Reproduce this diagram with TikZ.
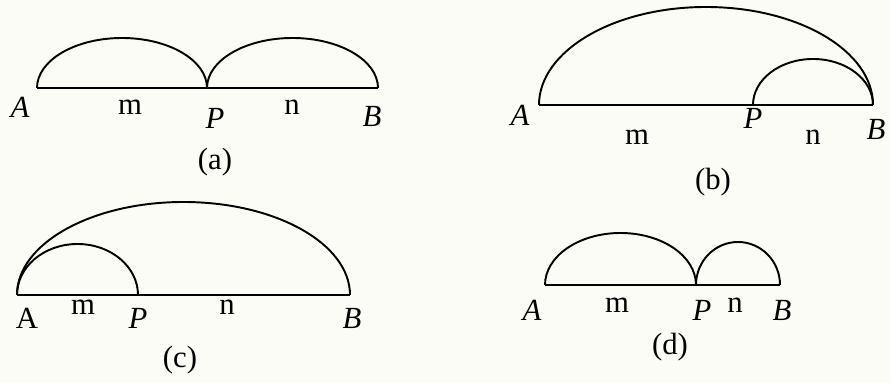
\documentclass[tikz,border=0pt]{standalone}
\usepackage{fontspec}
\setmainfont{Liberation Serif}
\usetikzlibrary{positioning, calc}
\definecolor{bgpaper}{HTML}{FCFCF7}
\definecolor{inkdark}{HTML}{000000}
\tikzset{
  segline/.style={draw=inkdark, line width=1.1pt},
  arcline/.style={draw=inkdark, line width=1.1pt},
  ptlabel/.style={font=\fontsize{17.5}{21}\selectfont\itshape, text=inkdark, inner sep=0pt},
  lenlabel/.style={font=\fontsize{17.5}{21}\selectfont, text=inkdark, inner sep=0pt},
  caplabel/.style={font=\fontsize{17.5}{21}\selectfont, text=inkdark, inner sep=0pt},
}

\begin{document}
\begin{tikzpicture}
  \fill[bgpaper] (0,0) rectangle (17.8,7.66);
  \useasboundingbox (0,0) rectangle (17.8,7.66);

  % (a)
  \coordinate (aA) at (0.74,5.90);
  \coordinate (aP) at (4.14,5.90);
  \coordinate (aB) at (7.56,5.90);
  \draw[segline] (aA) -- (aB);
  \draw[arcline] (aA) arc[start angle=180, end angle=0, x radius=1.70, y radius=1.0];
  \draw[arcline] (aP) arc[start angle=180, end angle=0, x radius=1.71, y radius=1.0];
  \node[ptlabel]  (aAl) at (0.40,5.52) {A};
  \node[lenlabel] (aml) at (2.60,5.52) {m};
  \node[ptlabel]  (aPl) at (4.30,5.30) {P};
  \node[lenlabel] (anl) at (5.84,5.52) {n};
  \node[ptlabel]  (aBl) at (7.44,5.34) {B};
  \node[caplabel] (acap) at (4.30,4.42) {(a)};

  % (b)
  \coordinate (bA) at (10.78,5.56);
  \coordinate (bP) at (15.06,5.56);
  \coordinate (bB) at (17.46,5.56);
  \draw[segline] (bA) -- (bB);
  \draw[arcline] (bA) arc[start angle=180, end angle=0, x radius=3.34, y radius=1.96];
  \draw[arcline] (bP) arc[start angle=180, end angle=0, x radius=1.20, y radius=0.92];
  \node[ptlabel]  (bAl) at (10.40,5.36) {A};
  \node[lenlabel] (bml) at (12.74,4.92) {m};
  \node[ptlabel]  (bPl) at (15.06,5.30) {P};
  \node[lenlabel] (bnl) at (16.26,4.92) {n};
  \node[ptlabel]  (bBl) at (17.52,5.08) {B};
  \node[caplabel] (bcap) at (14.26,4.02) {(b)};

  % (c)
  \coordinate (cA) at (0.34,1.76);
  \coordinate (cP) at (2.76,1.76);
  \coordinate (cB) at (7.00,1.76);
  \draw[segline] (cA) -- (cB);
  \draw[arcline] (cA) arc[start angle=180, end angle=0, x radius=3.33, y radius=1.86];
  \draw[arcline] (cA) arc[start angle=180, end angle=0, x radius=1.21, y radius=1.02];
  \node[lenlabel] (cAl) at (0.54,1.30) {A};
  \node[lenlabel] (cml) at (1.66,1.52) {m};
  \node[ptlabel]  (cPl) at (2.76,1.30) {P};
  \node[lenlabel] (cnl) at (4.54,1.52) {n};
  \node[ptlabel]  (cBl) at (7.04,1.30) {B};
  \node[caplabel] (ccap) at (3.60,0.46) {(c)};

  % (d)
  \coordinate (dA) at (10.90,1.96);
  \coordinate (dP) at (13.92,1.96);
  \coordinate (dB) at (15.60,1.96);
  \draw[segline] (dA) -- (dB);
  \draw[arcline] (dA) arc[start angle=180, end angle=0, x radius=1.51, y radius=1.04];
  \draw[arcline] (dP) arc[start angle=180, end angle=0, x radius=0.84, y radius=0.86];
  \node[ptlabel]  (dAl) at (10.64,1.46) {A};
  \node[lenlabel] (dml) at (12.34,1.56) {m};
  \node[ptlabel]  (dPl) at (14.04,1.46) {P};
  \node[lenlabel] (dnl) at (14.70,1.56) {n};
  \node[ptlabel]  (dBl) at (15.64,1.46) {B};
  \node[caplabel] (dcap) at (13.40,0.72) {(d)};
\end{tikzpicture}
\end{document}
